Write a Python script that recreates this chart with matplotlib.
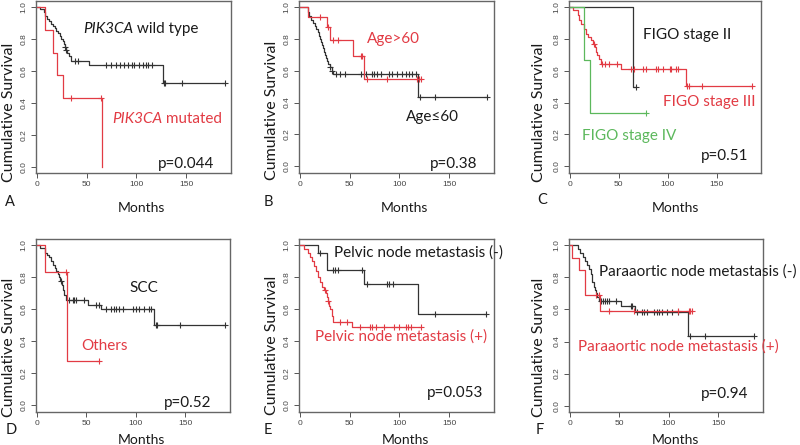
import numpy as np
import matplotlib
matplotlib.use("Agg")
import matplotlib.pyplot as plt

# ---------------- data ----------------
# Panel A: PIK3CA
A_wt_t = [3, 7, 8, 10, 12, 14, 16, 18, 19, 21, 23, 24, 26, 27, 28, 29, 30, 32, 34, 52, 127]
A_wt_s = [0.985, 0.97, 0.94, 0.925, 0.91, 0.895, 0.88, 0.865, 0.85, 0.835, 0.82, 0.80, 0.785,
          0.77, 0.75, 0.73, 0.71, 0.69, 0.66, 0.635, 0.525]
A_wt_c = [28, 29, 38, 41, 70, 75, 80, 84, 88, 92, 96, 98, 103, 107, 110, 112, 116, 128, 129, 146, 189]
A_mut_t = [8, 16, 20, 26, 66]
A_mut_s = [0.857, 0.714, 0.571, 0.429, 0.0]
A_mut_c = [34, 65]

# Panel B: Age
B_le_t = [8, 9, 11, 13, 15, 16, 18, 19, 20, 21, 22, 23, 24, 25, 26, 27, 28, 30, 32, 33, 119]
B_le_s = [0.97, 0.94, 0.92, 0.90, 0.88, 0.86, 0.84, 0.82, 0.80, 0.78, 0.76, 0.74, 0.72, 0.70,
          0.68, 0.66, 0.64, 0.62, 0.60, 0.58, 0.435]
B_le_c = [30, 32, 36, 40, 45, 62, 67, 73, 75, 78, 82, 90, 93, 98, 103, 107, 110, 113, 117, 121, 136, 188]
B_gt_t = [8, 27, 30, 53, 65]
B_gt_s = [0.9375, 0.875, 0.79, 0.69, 0.55]
B_gt_c = [20, 28, 33, 38, 62, 63, 68, 88, 118, 120, 122]

# Panel C: FIGO stage
C_II_t = [65]
C_II_s = [0.5]
C_II_c = [68]
C_III_t = [3, 8, 10, 12, 15, 17, 19, 22, 24, 26, 27, 28, 30, 32, 52, 119]
C_III_s = [0.98, 0.95, 0.92, 0.89, 0.86, 0.83, 0.81, 0.79, 0.77, 0.75, 0.72, 0.70, 0.67, 0.64, 0.61, 0.505]
C_III_c = [25, 33, 36, 40, 48, 63, 66, 75, 78, 88, 90, 95, 102, 103, 108, 110, 120, 122, 135, 186]
C_IV_t = [15, 21]
C_IV_s = [0.667, 0.333]
C_IV_c = [78]

# Panel D: histology
D_scc_t = [3, 8, 10, 12, 14, 16, 18, 19, 21, 23, 24, 26, 27, 28, 30, 52, 65, 118]
D_scc_s = [0.985, 0.955, 0.94, 0.925, 0.90, 0.88, 0.86, 0.84, 0.82, 0.80, 0.78, 0.75, 0.72, 0.69,
           0.66, 0.63, 0.60, 0.50]
D_scc_c = [25, 33, 37, 38, 40, 48, 60, 63, 70, 75, 78, 80, 83, 87, 97, 100, 103, 108, 113, 115,
           120, 121, 145, 190]
D_oth_t = [8, 31]
D_oth_s = [0.833, 0.278]
D_oth_c = [30, 63]

# Panel E: pelvic node
E_neg_t = [18, 27, 65, 119]
E_neg_s = [0.95, 0.845, 0.76, 0.57]
E_neg_c = [20, 33, 35, 38, 63, 68, 88, 90, 94, 136, 187]
E_pos_t = [4, 8, 10, 12, 14, 16, 18, 20, 22, 24, 26, 27, 28, 29, 30, 32, 33, 52]
E_pos_s = [0.98, 0.955, 0.93, 0.90, 0.87, 0.84, 0.80, 0.77, 0.74, 0.72, 0.70, 0.68, 0.65, 0.62,
           0.60, 0.56, 0.52, 0.49]
E_pos_c = [25, 28, 40, 47, 61, 71, 73, 77, 85, 95, 100, 107, 109, 112, 122]

# Panel F: paraaortic node
F_neg_t = [8, 10, 13, 15, 17, 19, 21, 22, 23, 25, 26, 27, 28, 30, 52, 66, 119]
F_neg_s = [0.975, 0.95, 0.925, 0.90, 0.875, 0.85, 0.82, 0.80, 0.77, 0.74, 0.72, 0.70, 0.68,
           0.655, 0.62, 0.585, 0.435]
F_neg_c = [32, 34, 36, 38, 40, 47, 62, 63, 68, 73, 75, 78, 85, 88, 90, 93, 98, 103, 109, 121, 136, 186]
F_pos_t = [2, 9, 15, 31]
F_pos_s = [0.923, 0.846, 0.692, 0.593]
F_pos_c = [27, 30, 40, 65, 109, 120, 121, 123]

x_ticks = [0, 50, 100, 150]
y_ticks = [0.0, 0.2, 0.4, 0.6, 0.8, 1.0]
y_ticklabels = ["0.0", "0.2", "0.4", "0.6", "0.8", "1.0"]

# ---------------- style ----------------
BLACK = "#333333"
RED = "#e23b44"
GREEN = "#5cb85c"
TXT = "#1a1a1a"
FONT = ["Lato", "DejaVu Sans"]
TICKFONT = ["Liberation Sans", "DejaVu Sans"]

W, H = 800, 445
fig = plt.figure(figsize=(W / 100, H / 100), dpi=100)


def fx(x):
    return x / W


def fy(y):
    return 1 - y / H


def make_ax(l, r, t, b):
    ax = fig.add_axes([fx(l), fy(b), fx(r - l), (b - t) / H])
    ax.set_xlim(-0.7, 195)
    ax.set_ylim(-0.04, 1.04)
    ax.set_xticks(x_ticks)
    ax.set_xticklabels([str(v) for v in x_ticks], fontfamily=TICKFONT, fontsize=6, color="#444444")
    ax.set_yticks(y_ticks)
    ax.set_yticklabels(y_ticklabels, fontfamily=TICKFONT, fontsize=6, color="#444444",
                       rotation=90, va="center")
    ax.tick_params(length=3.5, width=0.7, color="#555555", pad=2.5)
    for sp in ax.spines.values():
        sp.set_color("#666666")
        sp.set_linewidth(1.0)
    return ax


def km(ax, t, s, c, color):
    t = np.asarray(t, float)
    s = np.asarray(s, float)
    c = np.asarray(c, float)
    end = max(t.max(), c.max() if len(c) else 0)
    xs = np.concatenate([[0.0], t, [end]])
    ys = np.concatenate([[1.0], s, [s[-1]]])
    ax.step(xs, ys, where="post", color=color, lw=0.9)
    idx = np.searchsorted(t, c, side="right")
    cy = np.where(idx == 0, 1.0, s[np.maximum(idx - 1, 0)])
    ax.plot(c, cy, linestyle="none", marker="+", ms=4.5, mew=0.8, color=color)


def ftext(x, y, s, size=11, color=TXT, ha="center", va="center", **kw):
    return fig.text(fx(x), fy(y), s, fontsize=size, color=color, ha=ha, va=va,
                    fontfamily=FONT, **kw)


def italic_then(x, y, it, rest, color, size=11):
    t1 = fig.text(fx(x), fy(y), it, fontsize=size, color=color, ha="left", va="baseline",
                  fontfamily=FONT, style="italic")
    ann = plt.annotate(rest, xy=(1, 0), xycoords=t1, ha="left", va="bottom",
                       fontsize=size, color=color, fontfamily=FONT, annotation_clip=False)
    return t1, ann


panels = [
    ("A", (36, 231, 0.5, 173)),
    ("B", (299, 494, 0.5, 172.7)),
    ("C", (569, 761, 0.5, 172.7)),
    ("D", (36, 230, 239, 411.7)),
    ("E", (299, 494, 239, 411.7)),
    ("F", (569, 763, 239, 412)),
]
axes = {}
for name, box in panels:
    axes[name] = make_ax(*box)

km(axes["A"], A_wt_t, A_wt_s, A_wt_c, BLACK)
km(axes["A"], A_mut_t, A_mut_s, A_mut_c, RED)
km(axes["B"], B_le_t, B_le_s, B_le_c, BLACK)
km(axes["B"], B_gt_t, B_gt_s, B_gt_c, RED)
km(axes["C"], C_II_t, C_II_s, C_II_c, BLACK)
km(axes["C"], C_III_t, C_III_s, C_III_c, RED)
km(axes["C"], C_IV_t, C_IV_s, C_IV_c, GREEN)
km(axes["D"], D_scc_t, D_scc_s, D_scc_c, BLACK)
km(axes["D"], D_oth_t, D_oth_s, D_oth_c, RED)
km(axes["E"], E_neg_t, E_neg_s, E_neg_c, BLACK)
km(axes["E"], E_pos_t, E_pos_s, E_pos_c, RED)
km(axes["F"], F_neg_t, F_neg_s, F_neg_c, BLACK)
km(axes["F"], F_pos_t, F_pos_s, F_pos_c, RED)

# axis labels, panel letters
ylab_pos = {"A": (9, 112), "B": (272, 110), "C": (539, 112),
            "D": (9, 347), "E": (272, 345), "F": (539, 347)}
months_pos = {"A": (141, 208), "B": (404, 208), "C": (675, 208),
              "D": (141, 440), "E": (405, 440), "F": (675, 440)}
letter_pos = {"A": (10, 202), "B": (268, 202), "C": (542, 200),
              "D": (11, 430), "E": (268, 430), "F": (540, 430)}
for k in "ABCDEF":
    ftext(*ylab_pos[k], "Cumulative Survival", size=11.5, rotation=90)
    ftext(*months_pos[k], "Months", size=10)
    ftext(*letter_pos[k], k, size=10.5)

# annotations
italic_then(83, 33, "PIK3CA", " wild type", TXT)
italic_then(112, 123, "PIK3CA", " mutated", RED)
ftext(186, 164, "p=0.044")

ftext(393, 39, "Age>60", color=RED)
ftext(432, 117, "Age\u226460")
ftext(454, 164, "p=0.38")

ftext(687, 35, "FIGO stage II")
ftext(709, 102, "FIGO stage III", color=RED)
ftext(629, 136, "FIGO stage IV", color=GREEN)
ftext(725, 156, "p=0.51")

ftext(144, 288, "SCC")
ftext(104, 346, "Others", color=RED)
ftext(188, 403, "p=0.52")

ftext(418, 253, "Pelvic node metastasis (-)")
ftext(401, 337, "Pelvic node metastasis (+)", color=RED)
ftext(455, 393, "p=0.053")

ftext(698, 272, "Paraaortic node metastasis (-)")
ftext(678, 347, "Paraaortic node metastasis (+)", color=RED)
ftext(725, 394, "p=0.94")

fig.savefig("out.png", dpi=100)
